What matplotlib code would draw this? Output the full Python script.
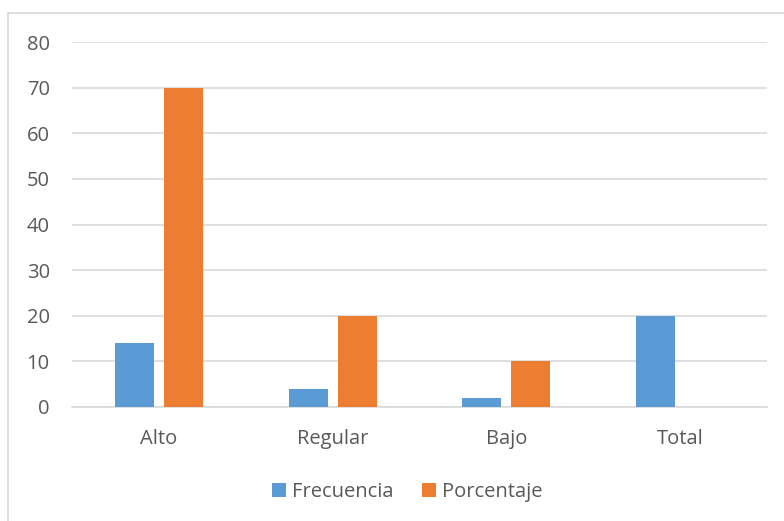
import matplotlib.pyplot as plt
import numpy as np
from matplotlib.patches import Rectangle

categories = ['Alto', 'Regular', 'Bajo', 'Total']
frecuencia = [14, 4, 2, 20]
porcentaje = [70, 20, 10, 0]

plt.rcParams['font.family'] = ['Open Sans', 'DejaVu Sans']

fig = plt.figure(figsize=(7.84, 5.21), dpi=100)
W, H = 784, 521
ax = fig.add_axes([72 / W, 1 - 407 / H, (767 - 72) / W, (407 - 42) / H])

x = np.arange(len(categories))
width = 0.224
off = 0.141
ax.bar(x - off, frecuencia, width, color='#5B9BD5', label='Frecuencia', zorder=3)
ax.bar(x + off, porcentaje, width, color='#ED7D31', label='Porcentaje', zorder=3)

ax.set_xlim(-0.5, 3.5)
ax.set_ylim(0, 80)
ax.set_yticks(range(0, 81, 10))
ax.set_xticks(x)
ax.set_xticklabels(categories)
ax.yaxis.grid(True, color='#d9d9d9', linewidth=1.2, zorder=0)
for s in ['top', 'right', 'left']:
    ax.spines[s].set_visible(False)
ax.spines['bottom'].set_color('#d9d9d9')
ax.spines['bottom'].set_linewidth(1.2)
ax.tick_params(length=0, labelsize=14.5, labelcolor='#595959')
ax.tick_params(axis='y', pad=16)
ax.tick_params(axis='x', pad=16)

leg = fig.legend(loc='center', bbox_to_anchor=(407 / W, 1 - 492 / H), ncol=2,
                 frameon=False, fontsize=14.5, handlelength=0.7, handleheight=0.7,
                 handletextpad=0.3, columnspacing=1.4)
for t in leg.get_texts():
    t.set_color('#595959')

# chart border (only left and top visible in the crop)
fig.add_artist(Rectangle((8 / W, -0.1), 1.2, 1.1 - 13 / H, transform=fig.transFigure,
                         fill=False, edgecolor='#d9d9d9', linewidth=1.2))

fig.savefig('out.png', dpi=100)
